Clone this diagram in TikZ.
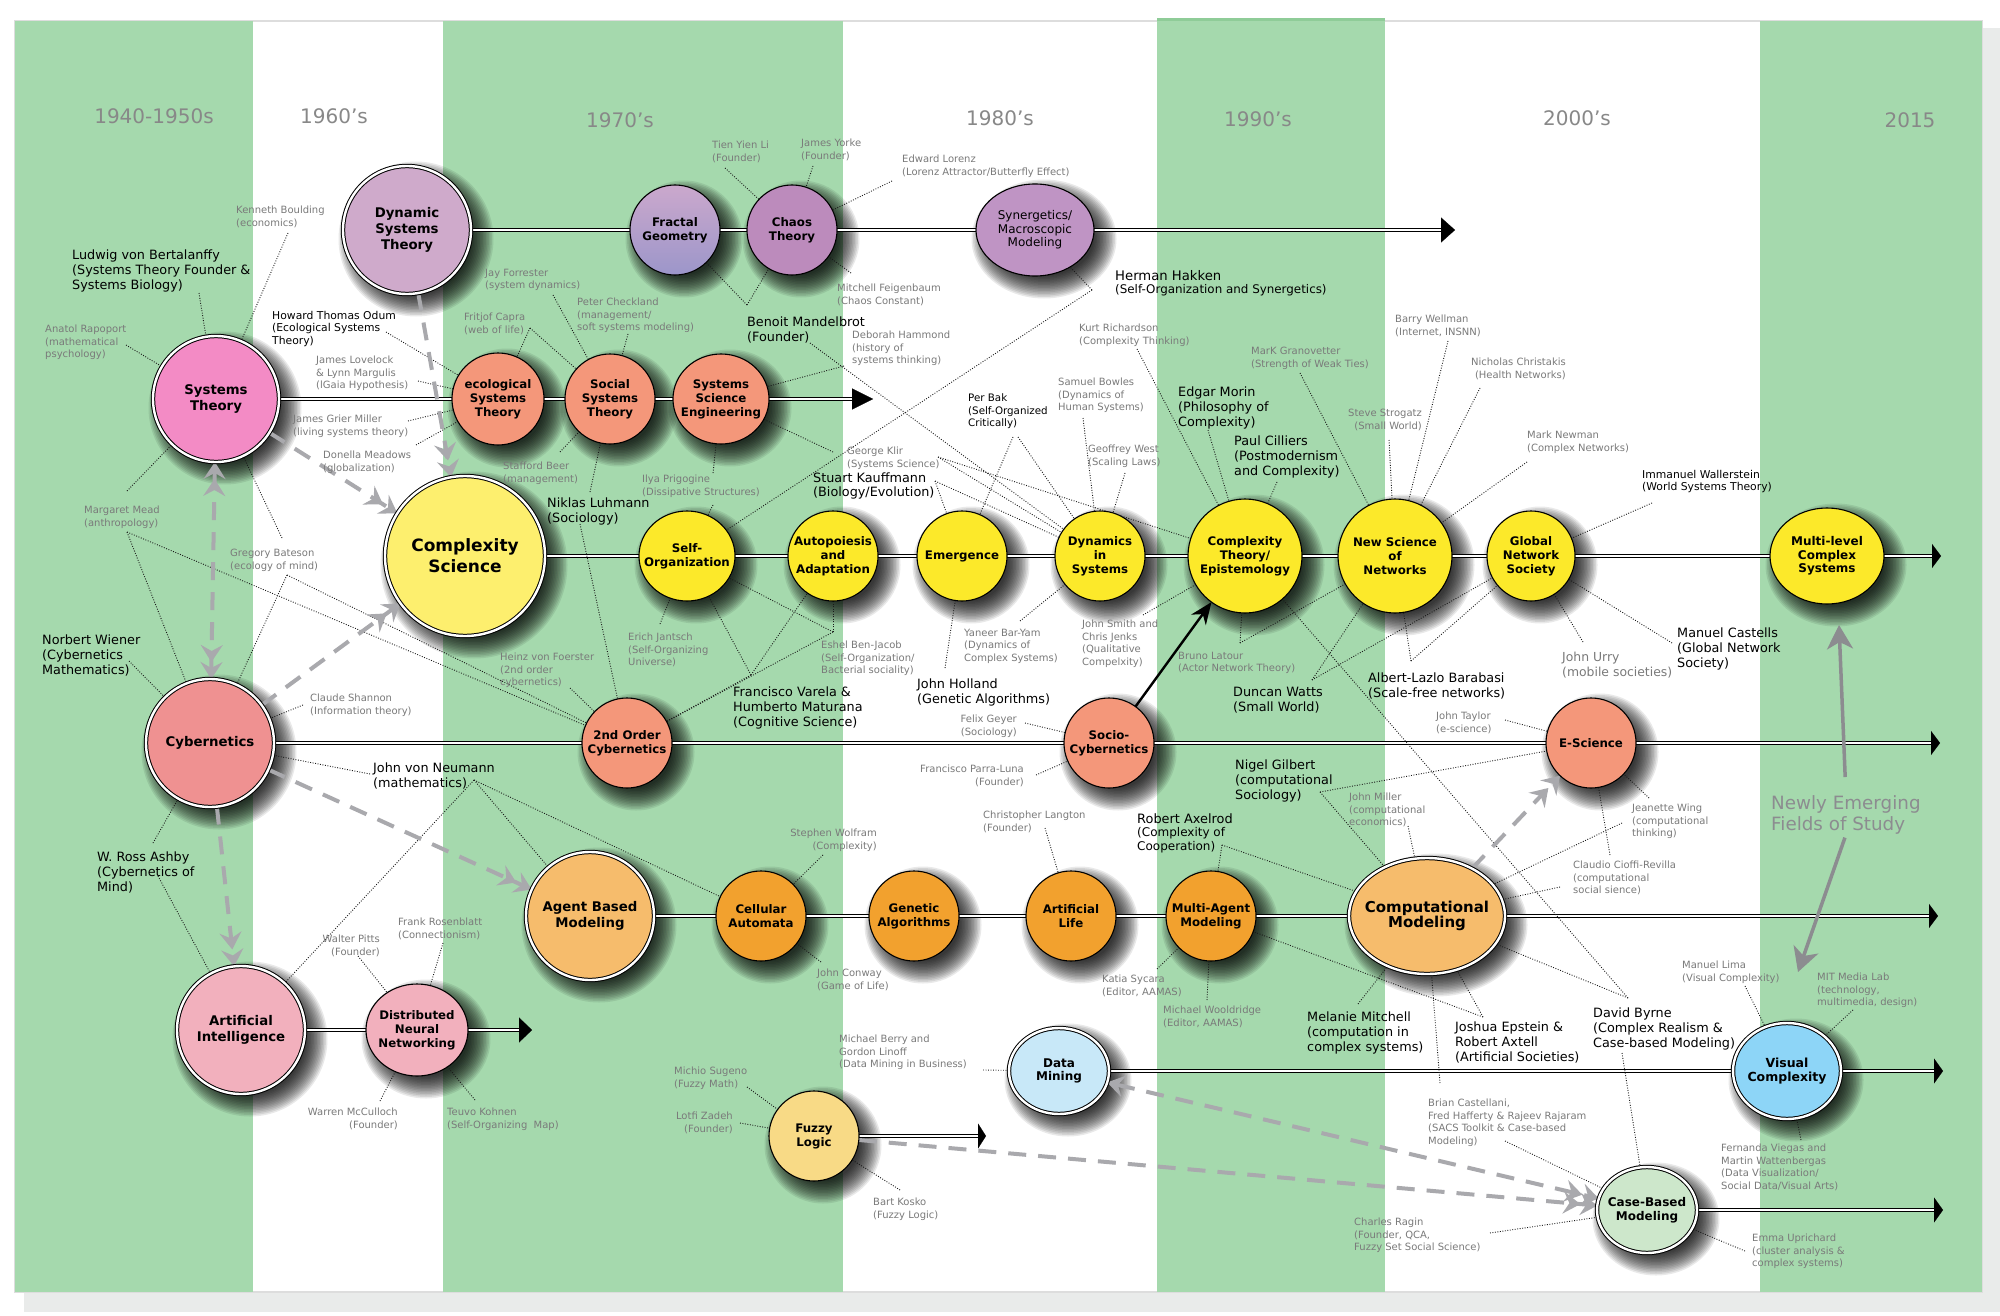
\documentclass[tikz,border=0pt]{standalone}
\usepackage{fontspec}
\setmainfont{DejaVu Sans}
\usetikzlibrary{shapes.geometric,arrows.meta}
\pgfdeclarelayer{bg}\pgfdeclarelayer{shadow}\pgfdeclarelayer{lines}
\pgfsetlayers{bg,shadow,lines,main}
\definecolor{cGreen}{HTML}{A5D9AD}
\definecolor{cGreenD}{HTML}{8FCC98}
\definecolor{cFrameSh}{HTML}{E9EBEA}
\definecolor{cFrameLine}{HTML}{DDDDDD}
\definecolor{cYear}{HTML}{888888}
\definecolor{cGText}{HTML}{7A7A7A}
\definecolor{cDST}{HTML}{CFAACB}
\definecolor{cFracA}{HTML}{CBA8CC}
\definecolor{cFracB}{HTML}{9C96CA}
\definecolor{cChaos}{HTML}{BC8BBC}
\definecolor{cSyn}{HTML}{BF94C4}
\definecolor{cST}{HTML}{F38BC5}
\definecolor{cSal}{HTML}{F4977A}
\definecolor{cCS}{HTML}{FDEF6E}
\definecolor{cYel}{HTML}{FCE92A}
\definecolor{cCyb}{HTML}{EF9191}
\definecolor{cABM}{HTML}{F6BC6C}
\definecolor{cOr}{HTML}{F2A12E}
\definecolor{cAI}{HTML}{F2B0BD}
\definecolor{cDM}{HTML}{C8E8F8}
\definecolor{cVC}{HTML}{8DD5F7}
\definecolor{cFz}{HTML}{F8DA86}
\definecolor{cCBM}{HTML}{CDE7CB}
\definecolor{cGd}{HTML}{A9A9AD}
\definecolor{cNg}{HTML}{8C8C90}
\tikzset{
 bub/.style={ellipse, draw=black, line width=1.1pt, inner sep=0pt, outer sep=0pt},
 dbl/.style={double=white, double distance=2.4pt, line width=1pt},
 lab/.style={inner sep=0pt, align=center, font=\bfseries\fontsize{11.5}{14}\selectfont},
 fA/.style={font=\bfseries\fontsize{11.8}{14}\selectfont},
 fB/.style={font=\bfseries\fontsize{13.3}{16}\selectfont},
 fC/.style={font=\bfseries\fontsize{17}{21}\selectfont},
 fD/.style={font=\bfseries\fontsize{15}{14.5}\selectfont},
 fE/.style={font=\bfseries\fontsize{12}{13.5}\selectfont},
 fF/.style={font=\bfseries\fontsize{12.5}{14.5}\selectfont},
 fS/.style={font=\fontsize{12}{13.5}\selectfont},
 shadowfill/.style={fill=black, fill opacity=0.085},
 dline/.style={draw=black, line width=1.1pt, double=white, double distance=2.4pt},
 gn/.style={anchor=north west, inner sep=0pt, align=left, text=cGText, font=\fontsize{10}{12.5}\selectfont, yshift=4pt},
 gnr/.style={gn, anchor=north east, align=right},
 bn/.style={anchor=north west, inner sep=0pt, align=left, text=black, font=\fontsize{12.8}{15}\selectfont, yshift=5pt},
 bs/.style={bn, font=\fontsize{10.8}{12.5}\selectfont, yshift=4.3pt},
 yr/.style={anchor=base, inner sep=0pt, text=cYear, font=\fontsize{20}{24}\selectfont},
 dotl/.style={draw=black!90, line width=0.9pt, dash pattern=on 0.9pt off 1.6pt},
 gdash/.style={draw=cGd, line width=4pt, dash pattern=on 18pt off 12pt},
 nefarrow/.style={draw=cNg, line width=3.5pt, -{Stealth[length=24pt,width=26pt,inset=7pt]}},
}
\newcommand{\bubble}[9]{%
 \begin{pgfonlayer}{shadow}
  \foreach \dd in {-9,-7.5,...,13.5}{
   \fill[shadowfill] (#4+9,#5+9) ellipse [x radius={#6/2+(\dd)*1pt}, y radius={#7/2+(\dd)*1pt}];
  }
 \end{pgfonlayer}
 \node[bub,#1,fill=#2,minimum width=#6,minimum height=#7] (#3) at (#4,#5) {};
 \node[lab,#8] (#3t) at (#3.center) {#9};
}
\begin{document}
\begin{tikzpicture}[x=1pt,y=-1pt]
\useasboundingbox (0,0) rectangle (2000,1316);
\begin{pgfonlayer}{bg}
 \fill[white] (0,0) rectangle (2000,1316);
 \fill[cFrameSh] (24,28) rectangle (2000,1312);
 \fill[white] (15,21) rectangle (1982,1292);
 \draw[cFrameLine, line width=2pt] (15,21) rectangle (1982,1292);
 \fill[cGreen] (15,21) rectangle (253,1292);
 \fill[cGreen] (443,21) rectangle (843,1292);
 \fill[cGreen] (1157,18) rectangle (1385,1292);
 \fill[cGreenD] (1157,18) rectangle (1385,21);
 \fill[cGreen] (1760,21) rectangle (1982,1292);
\end{pgfonlayer}

% years
\node[yr] (y1) at (154,124) {1940-1950s};
\node[yr] (y2) at (334,124) {1960's};
\node[yr] (y3) at (620,128) {1970's};
\node[yr] (y4) at (1000,126) {1980's};
\node[yr] (y5) at (1258,127) {1990's};
\node[yr] (y6) at (1577,126) {2000's};
\node[yr] (y7) at (1910,128) {2015};

% bubbles
\bubble{dbl}{cDST}{dst}{407}{230}{128}{128}{fB}{Dynamic\\Systems\\Theory}
\bubble{top color=cFracA,bottom color=cFracB}{cFracA}{frac}{675}{230}{90}{90}{fA}{Fractal\\Geometry}
\bubble{}{cChaos}{chaos}{792}{230}{90}{90}{fA}{Chaos\\Theory}
\bubble{}{cSyn}{syn}{1035}{230}{118}{92}{fS}{Synergetics/\\Macroscopic\\Modeling}

\bubble{dbl}{cST}{st}{216}{399}{126}{126}{fB}{Systems\\Theory}
\bubble{}{cSal}{est}{498}{399}{92}{92}{fA}{ecological\\Systems\\Theory}
\bubble{}{cSal}{sst}{610}{399}{90}{90}{fA}{Social\\Systems\\Theory}
\bubble{}{cSal}{sse}{721}{399}{96}{90}{fA}{Systems\\Science\\Engineering}

\bubble{dbl}{cCS}{cs}{465}{556}{160}{160}{fC}{Complexity\\Science}
\bubble{}{cYel}{so}{687}{556}{96}{90}{fA}{Self-\\Organization}
\bubble{}{cYel}{aa}{833}{556}{90}{90}{fA}{Autopoiesis\\and\\Adaptation}
\bubble{}{cYel}{em}{962}{556}{90}{90}{fA}{Emergence}
\bubble{}{cYel}{dis}{1100}{556}{90}{90}{fA}{Dynamics\\in\\Systems}
\bubble{}{cYel}{ct}{1245}{556}{114}{114}{fA}{Complexity\\Theory/\\Epistemology}
\bubble{}{cYel}{nsn}{1395}{556}{114}{114}{fA}{New Science\\of\\Networks}
\bubble{}{cYel}{gns}{1531}{556}{88}{90}{fA}{Global\\Network\\Society}
\bubble{}{cYel}{mcs}{1827}{556}{114}{96}{fE}{Multi-level\\Complex\\Systems}

\bubble{dbl}{cCyb}{cyb}{210}{743}{128}{128}{fB}{Cybernetics}
\bubble{}{cSal}{soc2}{627}{743}{90}{90}{fA}{2nd Order\\Cybernetics}
\bubble{}{cSal}{socio}{1109}{743}{90}{90}{fA}{Socio-\\Cybernetics}
\bubble{}{cSal}{esci}{1591}{743}{90}{90}{fA}{E-Science}

\bubble{dbl}{cABM}{abm}{590}{916}{128}{128}{fB}{Agent Based\\Modeling}
\bubble{}{cOr}{ca}{761}{916}{90}{90}{fA}{Cellular\\Automata}
\bubble{}{cOr}{ga}{914}{916}{90}{90}{fA}{Genetic\\Algorithms}
\bubble{}{cOr}{al}{1071}{916}{90}{90}{fA}{Artificial\\Life}
\bubble{}{cOr}{mam}{1211}{916}{90}{90}{fA}{Multi-Agent\\Modeling}
\bubble{dbl}{cABM}{cm}{1427}{916}{156}{116}{fD}{Computational\\Modeling}

\bubble{dbl}{cAI}{ai}{241}{1030}{128}{128}{fB}{Artificial\\Intelligence}
\bubble{}{cAI}{dnn}{417}{1030}{102}{92}{fA}{Distributed\\Neural\\Networking}

\bubble{dbl}{cDM}{dm}{1059}{1071}{100}{86}{fE}{Data\\Mining}
\bubble{dbl}{cVC}{vc}{1787}{1071}{108}{96}{fF}{Visual\\Complexity}
\bubble{}{cFz}{fz}{814}{1136}{90}{90}{fA}{Fuzzy\\Logic}
\bubble{dbl}{cCBM}{cbm}{1647}{1210}{100}{86}{fE}{Case-Based\\Modeling}

% row end coordinates
\coordinate (r1e) at (1441,230); \coordinate (r1t) at (1455,230);
\coordinate (r2e) at (852,399);  \coordinate (r2t) at (873,399);
\coordinate (r3e) at (1932,556); \coordinate (r3t) at (1941,556);
\coordinate (r4e) at (1931,743); \coordinate (r4t) at (1940,743);
\coordinate (r5e) at (1929,916); \coordinate (r5t) at (1938,916);
\coordinate (r6e) at (519,1030); \coordinate (r6t) at (532,1030);
\coordinate (r7e) at (1934,1071); \coordinate (r7t) at (1943,1071);
\coordinate (r8e) at (978,1136); \coordinate (r8t) at (986,1136);
\coordinate (r9e) at (1934,1210); \coordinate (r9t) at (1943,1210);

% notes
\node[gn] (n1) at (236,210) {Kenneth Boulding\\(economics)};
\node[gn] (n2) at (45,329) {Anatol Rapoport\\(mathematical\\psychology)};
\node[bn] (n3) at (72,255) {Ludwig von Bertalanffy\\(Systems Theory Founder \&\\Systems Biology)};
\node[bs] (n4) at (272,320) {Howard Thomas Odum\\(Ecological Systems\\Theory)};
\node[gn] (n5) at (316,360) {James Lovelock\\\& Lynn Margulis\\(lGaia Hypothesis)};
\node[gn] (n6) at (293,419) {James Grier Miller\\(living systems theory)};
\node[gn] (n7) at (323,455) {Donella Meadows\\(globalization)};
\node[gn] (n8) at (485,273) {Jay Forrester\\(system dynamics)};
\node[gn] (n9) at (464,317) {Fritjof Capra\\(web of life)};
\node[gn] (n10) at (577,302) {Peter Checkland\\(management/\\soft systems modeling)};
\node[gn] (n11) at (712,145) {Tien Yien Li\\(Founder)};
\node[gn] (n12) at (801,143) {James Yorke\\(Founder)};
\node[gn] (n13) at (902,159) {Edward Lorenz\\(Lorenz Attractor/Butterfly Effect)};
\node[gn] (n14) at (837,288) {Mitchell Feigenbaum\\(Chaos Constant)};
\node[bn] (n15) at (747,322) {Benoit Mandelbrot\\(Founder)};
\node[gn] (n16) at (852,335) {Deborah Hammond\\(history of\\systems thinking)};
\node[bn, font=\fontsize{13.2}{13.5}\selectfont] (n17) at (1115,275) {Herman Hakken\\{\fontsize{11.9}{13.5}\selectfont(Self-Organization and Synergetics)}};
\node[gn] (n18) at (1079,328) {Kurt Richardson\\(Complexity Thinking)};
\node[gn] (n19) at (1058,382) {Samuel Bowles\\(Dynamics of\\Human Systems)};
\node[gn] (n20) at (1088,449) {Geoffrey West\\(Scaling Laws)};
\node[bs, font=\fontsize{10.3}{12.5}\selectfont] (n21) at (968,403) {Per Bak\\(Self-Organized\\Critically)};
\node[bn, font=\fontsize{12.8}{14}\selectfont] (n22) at (813,478) {Stuart Kauffmann\\(Biology/Evolution)};
\node[gn] (n23) at (847,451) {George Klir\\(Systems Science)};
\node[gn] (n24) at (642,479) {Ilya Prigogine\\(Dissipative Structures)};
\node[gn] (n25) at (503,466) {Stafford Beer\\(management)};
\node[bn] (n26) at (547,503) {Niklas Luhmann\\(Sociology)};
\node[gn] (n27) at (84,510) {Margaret Mead\\(anthropology)};
\node[gn] (n28) at (230,553) {Gregory Bateson\\(ecology of mind)};
\node[bn] (n29) at (42,640) {Norbert Wiener\\(Cybernetics\\Mathematics)};
\node[gn] (n30) at (310,698) {Claude Shannon\\(Information theory)};
\node[bn] (n31) at (373,768) {John von Neumann\\(mathematics)};
\node[gn] (n32) at (500,657) {Heinz von Foerster\\(2nd order\\cybernetics)};
\node[gn] (n33) at (628,637) {Erich Jantsch\\(Self-Organizing\\Universe)};
\node[gn] (n34) at (821,645) {Eshel Ben-Jacob\\(Self-Organization/\\Bacterial sociality)};
\node[bn] (n35) at (733,692) {Francisco Varela \&\\Humberto Maturana\\(Cognitive Science)};
\node[bn] (n36) at (917,684) {John Holland\\(Genetic Algorithms)};
\node[gn] (n37) at (964,633) {Yaneer Bar-Yam\\(Dynamics of\\Complex Systems)};
\node[gn] (n38) at (1082,624) {John Smith and\\Chris Jenks\\(Qualitative\\Compelxity)};
\node[gn] (n39) at (1178,656) {Bruno Latour\\(Actor Network Theory)};
\node[bn] (n40) at (1233,692) {Duncan Watts\\(Small World)};
\node[bn] (n41) at (1368,678) {Albert-Lazlo Barabasi\\(Scale-free networks)};
\node[bn] (n42) at (1178,392) {Edgar Morin\\(Philosophy of\\Complexity)};
\node[bn] (n43) at (1234,441) {Paul Cilliers\\(Postmodernism\\and Complexity)};
\node[gn] (n44) at (1251,351) {MarK Granovetter\\(Strength of Weak Ties)};
\node[gnr] (n45) at (1422,413) {Steve Strogatz\\(Small World)};
\node[gn] (n46) at (1395,319) {Barry Wellman\\(Internet, INSNN)};
\node[gnr] (n47) at (1566,362) {Nicholas Christakis\\(Health Networks)};
\node[gn] (n48) at (1527,435) {Mark Newman\\(Complex Networks)};
\node[bs] (n49) at (1642,479) {Immanuel Wallerstein\\(World Systems Theory)};
\node[gn, font=\fontsize{12.4}{14.5}\selectfont, yshift=1pt] (n50) at (1562,657) {John Urry\\(mobile societies)};
\node[bn] (n51) at (1677,633) {Manuel Castells\\(Global Network\\Society)};
\node[gnr] (n52) at (1017,719) {Felix Geyer\\(Sociology)};
\node[gnr] (n53) at (1024,769) {Francisco Parra-Luna\\(Founder)};
\node[gn] (n54) at (983,815) {Christopher Langton\\(Founder)};
\node[gnr] (n55) at (877,833) {Stephen Wolfram\\(Complexity)};
\node[gn] (n56) at (817,973) {John Conway\\(Game of Life)};
\node[bn, font=\fontsize{12}{13.5}\selectfont] (n57) at (1137,818) {{\fontsize{12.9}{13.5}\selectfont Robert Axelrod}\\(Complexity of\\Cooperation)};
\node[bn] (n58) at (1235,765) {Nigel Gilbert\\(computational\\Sociology)};
\node[gn] (n59) at (1349,797) {John Miller\\(computational\\economics)};
\node[gn] (n60) at (1436,716) {John Taylor\\(e-science)};
\node[gn] (n61) at (1632,808) {Jeanette Wing\\(computational\\thinking)};
\node[gn] (n62) at (1573,865) {Claudio Cioffi-Revilla\\(computational\\social sience)};
\node[gn] (n63) at (1102,979) {Katia Sycara\\(Editor, AAMAS)};
\node[gn] (n64) at (1163,1010) {Michael Wooldridge\\(Editor, AAMAS)};
\node[bn] (n65) at (1307,1017) {Melanie Mitchell\\(computation in\\complex systems)};
\node[bn] (n66) at (1455,1027) {Joshua Epstein \&\\Robert Axtell\\(Artificial Societies)};
\node[bn] (n67) at (1593,1013) {David Byrne\\(Complex Realism \&\\Case-based Modeling)};
\node[gn] (n68) at (1428,1103) {Brian Castellani,\\Fred Hafferty \& Rajeev Rajaram\\(SACS Toolkit \& Case-based\\Modeling)};
\node[gn] (n69) at (1354,1222) {Charles Ragin\\(Founder, QCA,\\Fuzzy Set Social Science)};
\node[gn] (n70) at (1752,1238) {Emma Uprichard\\(cluster analysis \&\\complex systems)};
\node[gn] (n71) at (1682,965) {Manuel Lima\\(Visual Complexity)};
\node[gn] (n72) at (1817,977) {MIT Media Lab\\(technology,\\multimedia, design)};
\node[gn] (n73) at (1721,1148) {Fernanda Viegas and\\Martin Wattenbergas\\(Data Visualization/\\Social Data/Visual Arts)};
\node[gn] (n74) at (839,1039) {Michael Berry and\\Gordon Linoff\\(Data Mining in Business)};
\node[gn] (n75) at (674,1071) {Michio Sugeno\\(Fuzzy Math)};
\node[gnr] (n76) at (733,1116) {Lotfi Zadeh\\(Founder)};
\node[gn] (n77) at (873,1202) {Bart Kosko\\(Fuzzy Logic)};
\node[gnr] (n78) at (380,939) {Walter Pitts\\(Founder)};
\node[gn] (n79) at (398,922) {Frank Rosenblatt\\(Connectionism)};
\node[gnr] (n80) at (398,1112) {Warren McCulloch\\(Founder)};
\node[gn] (n81) at (447,1112) {Teuvo Kohnen\\(Self-Organizing~ Map)};
\node[bn] (n82) at (97,857) {W. Ross Ashby\\(Cybernetics of\\Mind)};
\node[anchor=north west, inner sep=0pt, align=left, text=cNg, font=\fontsize{18.3}{21.7}\selectfont, yshift=7pt] (nef) at (1771,802) {Newly Emerging\\Fields of Study};

% dotted connector start points
\coordinate (a1) at (288,233); \coordinate (a2) at (126,345); \coordinate (a3) at (199,293);
\coordinate (a4) at (386,332); \coordinate (a5) at (418,381); \coordinate (a6) at (408,421);
\coordinate (a7) at (416,445); \coordinate (a8) at (553,295); \coordinate (a9) at (530,328);
\coordinate (a10) at (628,334); \coordinate (a11) at (725,168); \coordinate (a12) at (813,166);
\coordinate (a13) at (892,181); \coordinate (a14) at (851,273); \coordinate (a15) at (747,305);
\coordinate (a16) at (810,343); \coordinate (a17) at (844,366); \coordinate (a18) at (1092,290);
\coordinate (a19) at (1137,349); \coordinate (a20) at (1083,418); \coordinate (a21) at (1125,473);
\coordinate (a22) at (1013,437); \coordinate (a23) at (1018,437); \coordinate (a24) at (935,481);
\coordinate (a25) at (938,457); \coordinate (a26) at (833,452); \coordinate (a27) at (713,473);
\coordinate (a28) at (713,505); \coordinate (a29) at (560,452); \coordinate (a30) at (590,492);
\coordinate (a31) at (580,524); \coordinate (a32) at (127,491); \coordinate (a33) at (127,532);
\coordinate (a34) at (282,538); \coordinate (a35) at (287,575); \coordinate (a36) at (129,661);
\coordinate (a37) at (303,705); \coordinate (a38) at (370,774); \coordinate (a39) at (474,780);
\coordinate (a40) at (570,688); \coordinate (a41) at (660,624); \coordinate (a42) at (833,632);
\coordinate (a43) at (751,675); \coordinate (a44) at (945,668); \coordinate (a45) at (1020,621);
\coordinate (a46) at (1143,615); \coordinate (a47) at (1240,643); \coordinate (a48) at (1312,680);
\coordinate (a49) at (1411,661); \coordinate (a50) at (1208,430); \coordinate (a51) at (1277,482);
\coordinate (a52) at (1300,373); \coordinate (a53) at (1389,440); \coordinate (a54) at (1448,341);
\coordinate (a55) at (1480,388); \coordinate (a56) at (1527,462); \coordinate (a57) at (1652,503);
\coordinate (a58) at (1583,642); \coordinate (a59) at (1672,643); \coordinate (a60) at (1025,723);
\coordinate (a61) at (1036,775); \coordinate (a62) at (1045,828); \coordinate (a63) at (823,855);
\coordinate (a64) at (821,962); \coordinate (a65) at (1222,845); \coordinate (a66) at (1320,792);
\coordinate (a67) at (1408,826); \coordinate (a68) at (1505,720); \coordinate (a69) at (1649,798);
\coordinate (a70) at (1622,823); \coordinate (a71) at (1610,855); \coordinate (a72) at (1560,887);
\coordinate (a73) at (1157,969); \coordinate (a74) at (1207,1000); \coordinate (a75) at (1358,1004);
\coordinate (a76) at (1483,1017); \coordinate (a77) at (1628,998); \coordinate (a78) at (1622,1053);
\coordinate (a79) at (1440,1083); \coordinate (a80) at (1505,1141); \coordinate (a81) at (1490,1233);
\coordinate (a82) at (1745,1251); \coordinate (a83) at (1745,986); \coordinate (a84) at (1853,1010);
\coordinate (a85) at (1801,1140); \coordinate (a86) at (983,1070); \coordinate (a87) at (747,1087);
\coordinate (a88) at (740,1123); \coordinate (a89) at (900,1190); \coordinate (a90) at (358,956);
\coordinate (a91) at (443,943); \coordinate (a92) at (380,1101); \coordinate (a93) at (475,1100);
\coordinate (a94) at (153,843); \coordinate (a95) at (158,876);
\coordinate (mlt) at (1839,625); \coordinate (vct) at (1798,972);

\begin{pgfonlayer}{lines}
% timelines
\draw[dline] (dst) -- (frac) -- (chaos) -- (syn) -- (r1e);
\draw[line width=0.2pt, -{Triangle[length=14pt,width=25pt]}] (r1e) -- (r1t);
\draw[dline] (st) -- (est) -- (sst) -- (sse) -- (r2e);
\draw[line width=0.2pt, -{Triangle[length=21pt,width=21pt]}] (r2e) -- (r2t);
\draw[dline] (cs) -- (so) -- (aa) -- (em) -- (dis) -- (ct) -- (nsn) -- (gns) -- (mcs) -- (r3e);
\draw[line width=0.2pt, -{Triangle[length=9pt,width=24pt]}] (r3e) -- (r3t);
\draw[dline] (cyb) -- (soc2) -- (socio) -- (esci) -- (r4e);
\draw[line width=0.2pt, -{Triangle[length=9pt,width=24pt]}] (r4e) -- (r4t);
\draw[dline] (abm) -- (ca) -- (ga) -- (al) -- (mam) -- (cm) -- (r5e);
\draw[line width=0.2pt, -{Triangle[length=9pt,width=24pt]}] (r5e) -- (r5t);
\draw[dline] (ai) -- (dnn) -- (r6e);
\draw[line width=0.2pt, -{Triangle[length=13pt,width=25pt]}] (r6e) -- (r6t);
\draw[dline] (dm) -- (vc) -- (r7e);
\draw[line width=0.2pt, -{Triangle[length=9pt,width=25pt]}] (r7e) -- (r7t);
\draw[dline] (fz) -- (r8e);
\draw[line width=0.2pt, -{Triangle[length=8pt,width=25pt]}] (r8e) -- (r8t);
\draw[dline] (cbm) -- (r9e);
\draw[line width=0.2pt, -{Triangle[length=9pt,width=25pt]}] (r9e) -- (r9t);

% dotted connectors
\draw[dotl] (a1) -- (st); \draw[dotl] (a2) -- (st); \draw[dotl] (a3) -- (st);
\draw[dotl] (a4) -- (est); \draw[dotl] (a5) -- (est); \draw[dotl] (a6) -- (est); \draw[dotl] (a7) -- (est);
\draw[dotl] (a8) -- (sst); \draw[dotl] (a9) -- (sst); \draw[dotl] (a9) -- (est); \draw[dotl] (a10) -- (sst);
\draw[dotl] (a11) -- (chaos); \draw[dotl] (a12) -- (chaos); \draw[dotl] (a13) -- (chaos); \draw[dotl] (a14) -- (chaos);
\draw[dotl] (a15) -- (frac); \draw[dotl] (a15) -- (chaos); \draw[dotl] (a16) -- (dis);
\draw[dotl] (a17) -- (sse); \draw[dotl] (a18) -- (syn); \draw[dotl] (a18) -- (so);
\draw[dotl] (a19) -- (ct); \draw[dotl] (a20) -- (dis); \draw[dotl] (a21) -- (dis);
\draw[dotl] (a22) -- (em); \draw[dotl] (a23) -- (dis);
\draw[dotl] (a24) -- (em); \draw[dotl] (a24) -- (dis);
\draw[dotl] (a25) -- (dis); \draw[dotl] (a25) -- (ct); \draw[dotl] (a26) -- (sse);
\draw[dotl] (a27) -- (sse); \draw[dotl] (a28) -- (so); \draw[dotl] (a29) -- (sst);
\draw[dotl] (a30) -- (sst); \draw[dotl] (a31) -- (soc2);
\draw[dotl] (a32) -- (st); \draw[dotl] (a33) -- (cyb); \draw[dotl] (a33) -- (soc2);
\draw[dotl] (a34) -- (st); \draw[dotl] (a35) -- (soc2); \draw[dotl] (a35) -- (cyb);
\draw[dotl] (a36) -- (cyb); \draw[dotl] (a37) -- (cyb); \draw[dotl] (a38) -- (cyb);
\draw[dotl] (a39) -- (ai); \draw[dotl] (a39) -- (abm); \draw[dotl] (a39) -- (ca);
\draw[dotl] (a40) -- (soc2); \draw[dotl] (a41) -- (so);
\draw[dotl] (a42) -- (aa); \draw[dotl] (a42) -- (so); \draw[dotl] (a42) -- (soc2);
\draw[dotl] (a43) -- (aa); \draw[dotl] (a43) -- (so); \draw[dotl] (a43) -- (soc2);
\draw[dotl] (a44) -- (em); \draw[dotl] (a45) -- (dis); \draw[dotl] (a46) -- (ct);
\draw[dotl] (a47) -- (ct); \draw[dotl] (a47) -- (nsn);
\draw[dotl] (a48) -- (nsn); \draw[dotl] (a48) -- (gns);
\draw[dotl] (a49) -- (nsn); \draw[dotl] (a49) -- (gns);
\draw[dotl] (a50) -- (ct); \draw[dotl] (a51) -- (ct);
\draw[dotl] (a52) -- (nsn); \draw[dotl] (a53) -- (nsn); \draw[dotl] (a54) -- (nsn);
\draw[dotl] (a55) -- (nsn); \draw[dotl] (a56) -- (nsn);
\draw[dotl] (a57) -- (gns); \draw[dotl] (a58) -- (gns); \draw[dotl] (a59) -- (gns);
\draw[dotl] (a60) -- (socio); \draw[dotl] (a61) -- (socio); \draw[dotl] (a62) -- (al);
\draw[dotl] (a63) -- (ca); \draw[dotl] (a64) -- (ca);
\draw[dotl] (a65) -- (mam); \draw[dotl] (a65) -- (cm);
\draw[dotl] (a66) -- (esci); \draw[dotl] (a66) -- (cm); \draw[dotl] (a67) -- (cm);
\draw[dotl] (a68) -- (esci); \draw[dotl] (a69) -- (esci); \draw[dotl] (a70) -- (cm);
\draw[dotl] (a71) -- (esci); \draw[dotl] (a72) -- (cm);
\draw[dotl] (a73) -- (mam); \draw[dotl] (a74) -- (mam); \draw[dotl] (a75) -- (cm);
\draw[dotl] (a76) -- (cm); \draw[dotl] (a76) -- (mam);
\draw[dotl] (a77) -- (cm); \draw[dotl] (a77) -- (ct); \draw[dotl] (a78) -- (cbm);
\draw[dotl] (a79) -- (cm); \draw[dotl] (a80) -- (cbm); \draw[dotl] (a81) -- (cbm); \draw[dotl] (a82) -- (cbm);
\draw[dotl] (a83) -- (vc); \draw[dotl] (a84) -- (vc); \draw[dotl] (a85) -- (vc);
\draw[dotl] (a86) -- (dm);
\draw[dotl] (a87) -- (fz); \draw[dotl] (a88) -- (fz); \draw[dotl] (a89) -- (fz);
\draw[dotl] (a90) -- (dnn); \draw[dotl] (a91) -- (dnn); \draw[dotl] (a92) -- (dnn); \draw[dotl] (a93) -- (dnn);
\draw[dotl] (a94) -- (cyb); \draw[dotl] (a95) -- (ai);

% gray dashed influence arrows
\draw[gdash, -{Stealth[length=17pt,width=22pt,inset=6pt]Stealth[length=17pt,width=22pt,inset=6pt]}] (st) -- (cs);
\draw[gdash, -{Stealth[length=17pt,width=22pt,inset=6pt]Stealth[length=17pt,width=22pt,inset=6pt]}] (dst) -- (cs);
\draw[gdash, {Stealth[length=17pt,width=22pt,inset=6pt]Stealth[length=17pt,width=22pt,inset=6pt]}-{Stealth[length=17pt,width=22pt,inset=6pt]Stealth[length=17pt,width=22pt,inset=6pt]}] (st) -- (cyb);
\draw[gdash, -{Stealth[length=17pt,width=22pt,inset=6pt]Stealth[length=17pt,width=22pt,inset=6pt]}] (cyb) -- (cs);
\draw[gdash, -{Stealth[length=17pt,width=22pt,inset=6pt]Stealth[length=17pt,width=22pt,inset=6pt]}] (cyb) -- (abm);
\draw[gdash, -{Stealth[length=17pt,width=22pt,inset=6pt]Stealth[length=17pt,width=22pt,inset=6pt]}] (cyb) -- (ai);
\draw[gdash, -{Stealth[length=17pt,width=22pt,inset=6pt]Stealth[length=17pt,width=22pt,inset=6pt]}] (cm) -- (esci);
\draw[gdash, {Stealth[length=17pt,width=22pt,inset=6pt]}-{Stealth[length=17pt,width=22pt,inset=6pt]Stealth[length=17pt,width=22pt,inset=6pt]}] (dm) -- (cbm);
\draw[gdash, -{Stealth[length=17pt,width=22pt,inset=6pt]Stealth[length=17pt,width=22pt,inset=6pt]}] (fz) -- (cbm);

% black arrow
\draw[line width=2.4pt, -{Stealth[length=22pt,width=18pt]}] (socio) -- (ct);
% newly emerging arrows
\draw[nefarrow, shorten <=18pt] (nef.north) -- (mlt);
\draw[nefarrow, shorten <=3pt] (nef.south) -- (vct);
\end{pgfonlayer}
\end{tikzpicture}
\end{document}
